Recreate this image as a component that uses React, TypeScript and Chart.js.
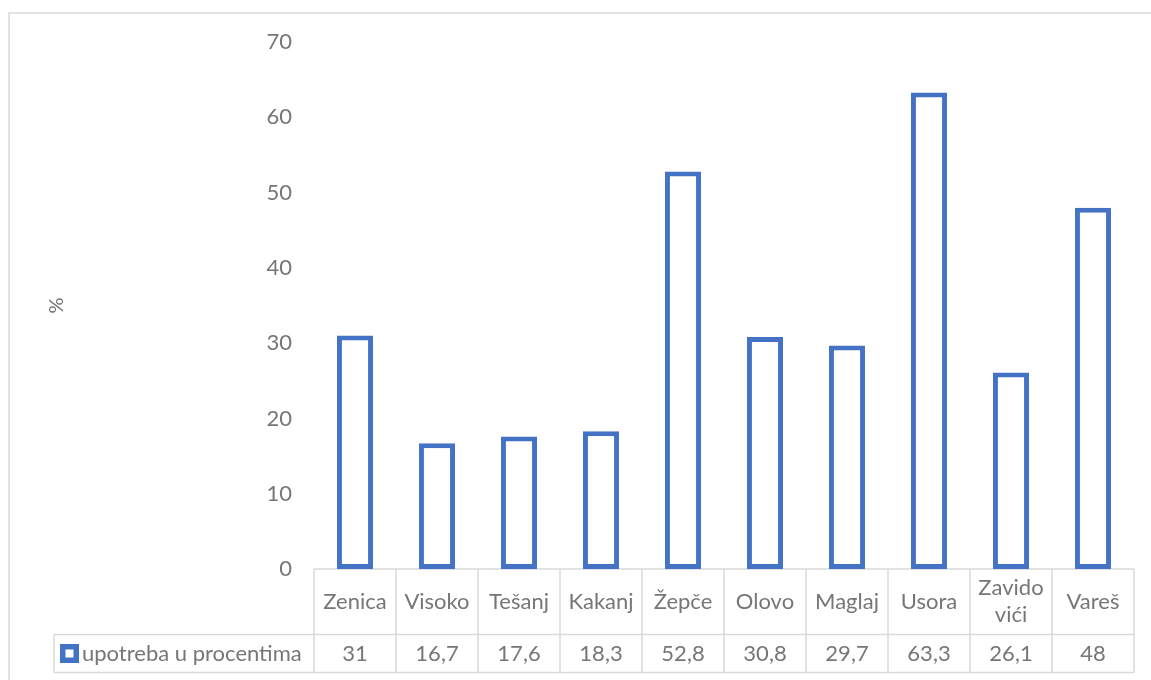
import React, { useEffect, useRef } from 'react';
import { Chart, registerables } from 'chart.js';

Chart.register(...registerables);

const categories: (string | string[])[] = ['Zenica', 'Visoko', 'Tešanj', 'Kakanj', 'Žepče', 'Olovo', 'Maglaj', 'Usora', ['Zavido', 'vići'], 'Vareš'];
const values: number[] = [31, 16.7, 17.6, 18.3, 52.8, 30.8, 29.7, 63.3, 26.1, 48];
const seriesName = 'upotreba u procentima';
const yMin = 0;
const yMax = 70;
const yStep = 10;
const yTitle = '%';

const BLUE = '#4472C4';
const TEXT = '#767676';
const GRID = '#d9d9d9';
const FONT = 'Lato';
const FS = 22;

const tablePlugin = {
  id: 'dataTable',
  beforeDraw(chart: any) {
    const { ctx } = chart;
    ctx.save();
    ctx.strokeStyle = GRID;
    ctx.lineWidth = 1.5;
    ctx.beginPath();
    ctx.moveTo(9, 680);
    ctx.lineTo(9, 13);
    ctx.lineTo(1151, 13);
    ctx.stroke();
    ctx.restore();
  },
  beforeDatasetsDraw(chart: any) {
    const { ctx, chartArea, scales } = chart;
    const xs = scales.x;
    const n = categories.length;
    const left = chartArea.left;
    const right = chartArea.right;
    const top = chartArea.bottom;
    const rowMid = top + 65.5;
    const rowBot = rowMid + 38;
    const legendLeft = 54;

    const bounds: number[] = [left];
    for (let i = 1; i < n; i++) {
      bounds.push((xs.getPixelForValue(i - 1) + xs.getPixelForValue(i)) / 2);
    }
    bounds.push(right);

    ctx.save();
    ctx.strokeStyle = GRID;
    ctx.lineWidth = 1.5;
    ctx.beginPath();
    ctx.moveTo(left, top);
    ctx.lineTo(right, top);
    ctx.moveTo(legendLeft, rowMid);
    ctx.lineTo(right, rowMid);
    ctx.moveTo(legendLeft, rowBot);
    ctx.lineTo(right, rowBot);
    ctx.moveTo(legendLeft, rowMid);
    ctx.lineTo(legendLeft, rowBot);
    for (const b of bounds) {
      ctx.moveTo(b, top);
      ctx.lineTo(b, rowBot);
    }
    ctx.stroke();

    ctx.fillStyle = TEXT;
    ctx.font = `${FS}px ${FONT}`;
    ctx.textAlign = 'center';
    ctx.textBaseline = 'middle';
    const headMid = (top + rowMid) / 2;
    const valMid = (rowMid + rowBot) / 2;
    for (let i = 0; i < n; i++) {
      const cx = xs.getPixelForValue(i);
      const lab = categories[i];
      const lines = Array.isArray(lab) ? lab : [lab];
      const lh = 27;
      const y0 = headMid - ((lines.length - 1) * lh) / 2;
      lines.forEach((l, k) => ctx.fillText(l, cx, y0 + k * lh));
      ctx.fillText(String(values[i]).replace('.', ','), cx, valMid);
    }

    // legend key
    ctx.fillStyle = BLUE;
    ctx.fillRect(60, valMid - 9.5, 19, 19);
    ctx.fillStyle = '#ffffff';
    ctx.fillRect(65.5, valMid - 4, 8, 8);
    ctx.fillStyle = TEXT;
    ctx.textAlign = 'left';
    ctx.fillText(seriesName, 82, valMid);
    ctx.restore();
  },
};

export default function App() {
  const ref = useRef<HTMLCanvasElement>(null);
  useEffect(() => {
    if (!ref.current) return;
    const chart = new Chart(ref.current, {
      type: 'bar',
      data: {
        labels: categories as any,
        datasets: [
          {
            label: seriesName,
            data: values,
            backgroundColor: '#ffffff',
            borderColor: BLUE,
            borderWidth: 5,
            borderSkipped: false,
            barPercentage: 0.44,
            categoryPercentage: 1,
          },
        ],
      },
      options: {
        animation: false,
        responsive: false,
        devicePixelRatio: 1,
        layout: { padding: { left: 40, right: 17, top: 42, bottom: 111 } },
        plugins: { legend: { display: false }, tooltip: { enabled: false } },
        scales: {
          x: { display: false },
          y: {
            min: yMin,
            max: yMax,
            ticks: { stepSize: yStep, color: TEXT, font: { family: FONT, size: FS }, padding: 14 },
            grid: { display: false },
            border: { display: false },
            title: { display: true, text: yTitle, color: TEXT, font: { family: FONT, size: 20 }, padding: { top: 5, bottom: 0 } },
            afterFit: (s: any) => {
              s.width = 274;
            },
          },
        },
      },
      plugins: [tablePlugin],
    });
    return () => chart.destroy();
  }, []);
  return (
    <div style={{ position: 'absolute', left: 0, top: 0, width: 1151, height: 680 }}>
      <canvas ref={ref} width={1151} height={680} style={{ display: 'block' }} />
    </div>
  );
}
